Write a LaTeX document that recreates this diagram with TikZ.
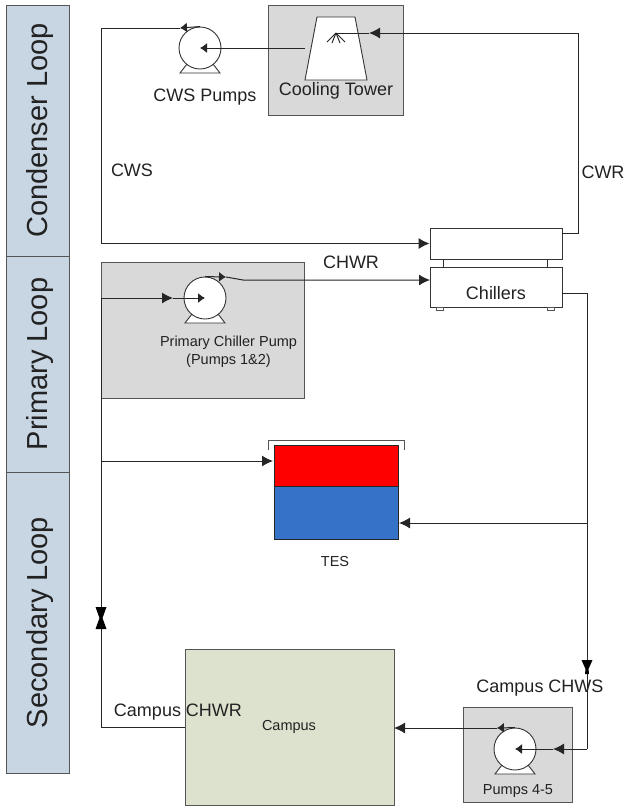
\documentclass[tikz,border=0pt]{standalone}
\usepackage{fontspec}
\setmainfont{Liberation Sans}
\usepackage{xcolor}
\usetikzlibrary{positioning,arrows.meta,calc}
\definecolor{bandblue}{HTML}{C8D5E3}
\definecolor{boxgray}{HTML}{D9D9D9}
\definecolor{campusgreen}{HTML}{DDE2CE}
\definecolor{tesblue}{HTML}{3673C8}
\definecolor{edgegray}{HTML}{555555}
\definecolor{inkgray}{HTML}{222222}
\tikzset{
band/.style={
draw=edgegray,
rotate=90,
minimum height=63pt,
text height=25pt,
text depth=7pt,
fill=bandblue,
text=inkgray,
font=\fontsize{29}{31}\selectfont
},
unitbox/.style={
draw=edgegray,
line width=0.9pt,
fill=boxgray,
inner sep=0pt
},
whitebox/.style={
draw=black!80,
line width=0.9pt,
fill=white,
minimum width=132pt,
inner sep=0pt
},
pump/.style={
circle,
draw=black!80,
line width=0.9pt,
fill=white,
minimum size=42pt,
inner sep=0pt
},
biglabel/.style={
text=inkgray,
inner sep=0pt,
font=\fontsize{18}{20}\selectfont
},
smalllabel/.style={
text=inkgray,
inner sep=0pt,
align=center,
font=\fontsize{14.5}{18}\selectfont
},
pipe/.style={
draw=black!85,
line width=1pt
},
arrow/.style={
pipe,
-{Latex[length=11pt,width=11pt]}
},
smallarrow/.style={
pipe,
-{Latex[length=7pt,width=10pt]}
}
}
\begin{document}
\begin{tikzpicture}[x=1pt,y=-1pt]
\useasboundingbox (0,0) rectangle (626,807);

\node[band,minimum width=251pt](condenser) at (38,130.5){Condenser Loop};
\node[band,minimum width=216pt](primary) at (38,364){Primary Loop};
\node[band,minimum width=301pt](secondary) at (38,622.5){Secondary Loop};

\node[unitbox,minimum width=135pt,minimum height=110pt](towerbox) at (335.5,60){};
\node[unitbox,minimum width=203pt,minimum height=136pt](primarybox) at (202.5,330){};
\node[unitbox,minimum width=109pt,minimum height=95pt](pumpbox) at (517.5,754.5){};
\node[unitbox,fill=campusgreen,minimum width=209pt,minimum height=156pt](campus) at (289.5,727){};

\draw[draw=black!80,line width=0.9pt,fill=white] (317,17)--(355,17)--(367,80)--(305,80)--cycle;
\node[whitebox,minimum height=31pt](chillertop) at (496,243.5){};
\node[whitebox,minimum height=40pt](chillers) at (496,287){};
\foreach \x in {443,547}
\draw[draw=black!80,line width=0.9pt] (\x,259)--(\x,267);
\foreach \x in {436,547}
\draw[draw=edgegray,fill=white] (\x,307) rectangle (\x+7,310);

\draw[draw=edgegray,line width=0.9pt] (268,450)--(268,440)--(404,440)--(404,450);
\node[draw=black!85,fill=red,line width=1pt,minimum width=124pt,minimum height=41pt,inner sep=0pt](teshot) at (336,465.5){};
\node[draw=black!85,fill=tesblue,line width=1pt,minimum width=124pt,minimum height=53pt,inner sep=0pt](tescold) at (336,512.5){};

\foreach \x/\y in {200/48,205/298,515/749}
\draw[draw=black!80,line width=0.9pt,fill=white,shift={(\x,\y)}] (-13,16)--(-20,25)--(20,25)--(13,16);
\node[pump](cwspump) at (200,48){};
\node[pump](chwpump) at (205,298){};
\node[pump](campuspump) at (515,749){};

\coordinate(cwstip) at (180,28);
\coordinate(cwscorner) at (101,28);
\coordinate(cwsin) at (101,243.5);
\coordinate(towerout) at (305,48);
\coordinate(spray) at (336,33);
\coordinate(cwrtip) at (369,33);
\coordinate(cwrtop) at (578,33);
\coordinate(cwrbottom) at (578,233);
\coordinate(cwrout) at (562,233);
\coordinate(chwrtip) at (226,277);
\coordinate(chwrbend) at (243,280);
\coordinate(chwrin) at (430,280);
\coordinate(mainleft) at (101,298);
\coordinate(primarytip) at (173,298);
\coordinate(testee) at (101,461);
\coordinate(teshotin) at (273,461);
\coordinate(chwsout) at (562,293);
\coordinate(chwscorner) at (587,293);
\coordinate(testap) at (587,523);
\coordinate(tescoldin) at (399,523);
\coordinate(valveb) at (587,667);
\coordinate(chwsbottom) at (587,749);
\coordinate(pumptip) at (553,749);
\coordinate(campustip) at (497,728);
\coordinate(campusin) at (394,728);
\coordinate(campusout) at (185,727);
\coordinate(maincorner) at (101,727);
\coordinate(valvea) at (101,618);

\draw[pipe] (cwstip)--(cwscorner)--(cwsin);
\draw[arrow] (cwsin)--(chillertop.west);
\draw[smallarrow] (cwspump.north)--(cwstip);
\draw[smallarrow] (towerout)--(cwspump.center);
\draw[arrow] (cwrout)--(cwrbottom)--(cwrtop)--(cwrtip);
\draw[pipe] (cwrtip)--(spray);
\foreach \x/\y in {-9/9,-4/10,4/10,9/9}
\draw[pipe] (spray)--++(\x,\y);

\draw[smallarrow] (chwpump.north)--(chwrtip);
\draw[arrow] (chwrtip)--(chwrbend)--(chwrin);
\draw[arrow] (mainleft)--(primarytip);
\draw[smallarrow] (primarytip)--(chwpump.center);

\draw[pipe] (campusout)--(maincorner)--(mainleft);
\draw[arrow] (testee)--(teshotin);
\fill[black,shift={(valvea)}] (-5.5,-11)--(5.5,-11)--(1.5,0)--(5.5,11)--(-5.5,11)--(-1.5,0)--cycle;

\draw[pipe] (chwsout)--(chwscorner)--(chwsbottom);
\draw[arrow] (chwsbottom)--(pumptip);
\draw[smallarrow] (pumptip)--(campuspump.center);
\draw[arrow] (testap)--(tescoldin);
\fill[black,shift={(valveb)}] (-5.5,-7)--(5.5,-7)--(1.5,2)--(2,7)--(-2,7)--(-1.5,2)--cycle;
\draw[smallarrow] (campuspump.north)--(campustip);
\draw[arrow] (campustip)--(campusin);

\node[biglabel](towerlabel) at (336,91){Cooling Tower};
\node[biglabel](cwslabel) at (205,97){CWS Pumps};
\node[biglabel](cws) at (132,170){CWS};
\node[biglabel](cwr) at (603,172){CWR};
\node[biglabel](chwr) at (351,262){CHWR};
\node[biglabel](chillerlabel) at (496,293){Chillers};
\node[smalllabel](primarylabel) at (228.5,352){Primary Chiller Pump\\(Pumps 1\&2)};
\node[smalllabel](teslabel) at (335,561){TES};
\node[biglabel](chwslabel) at (540,688){Campus CHWS};
\node[smalllabel](pumplabel) at (518,791){Pumps 4-5};
\node[biglabel](chwrlabel) at (178,712){Campus CHWR};
\node[smalllabel](campuslabel) at (289,727){Campus};
\end{tikzpicture}
\end{document}
